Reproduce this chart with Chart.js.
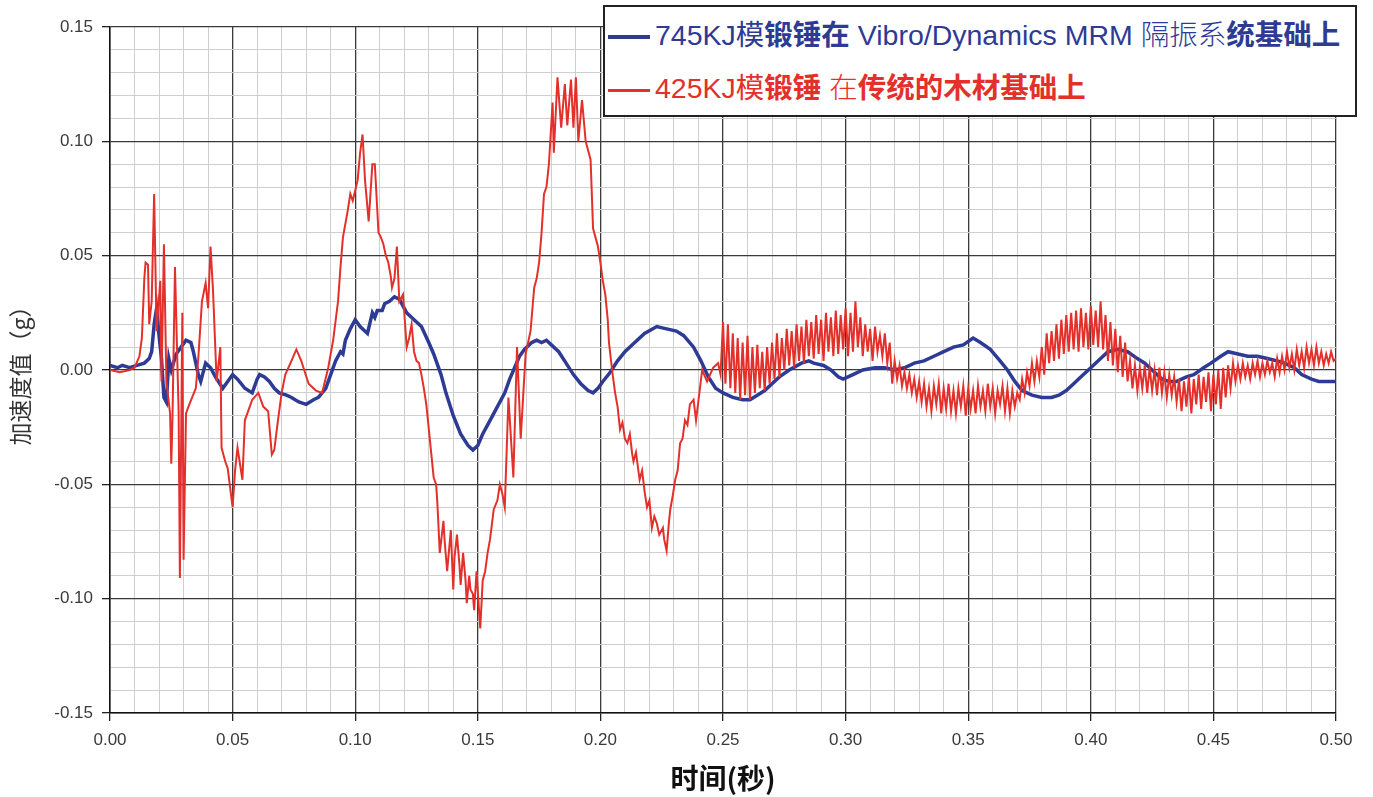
<!DOCTYPE html>
<html>
<head>
<meta charset="utf-8">
<script src="https://cdn.jsdelivr.net/npm/chart.js@4"></script>
<style>
  body { margin: 0; background: #fff; }
  #wrap { position: relative; width: 1373px; height: 797px; }
  #legend {
    position: absolute; left: 603px; top: 5px; width: 750px; height: 108px;
    border: 2px solid #222; background: #fff;
    font-family: "Liberation Sans", "Noto Sans CJK SC", sans-serif; font-size: 28.5px;
  }
  .row { position: absolute; left: 3px; white-space: nowrap; }
  .row .seg { display: inline-block; width: 42px; vertical-align: middle; margin-right: 5px; }
  .b { font-weight: bold; }
  .l { font-weight: 300; }
</style>
</head>
<body>
<div id="wrap">
  <canvas id="chart" width="1373" height="797"></canvas>
  <div id="legend">
    <div class="row" id="row1" style="top:5px;color:#2e3b95"><span class="seg" style="height:4px;background:#2e3b95"></span>745KJ模<span class="b">锻锤在</span> Vibro/Dynamics MRM <span class="l">隔振系</span><span class="b">统基础上</span></div>
    <div class="row" id="row2" style="top:58px;color:#e4302a"><span class="seg" style="height:3px;background:#e4302a"></span>425KJ模<span class="b">锻锤</span> <span class="l">在</span><span class="b">传统的木材基础上</span></div>
  </div>
</div>
<script>
// series labels
const seriesNames = [
  '745KJ模锻锤在 Vibro/Dynamics MRM 隔振系统基础上',
  '425KJ模锻锤 在传统的木材基础上'
]

// blue trace: [time s, accel g]
const bluePoints = [
  [0.000,0.002],[0.003,0.001],[0.005,0.002],[0.008,0.001],[0.011,0.002],[0.014,0.003],
  [0.016,0.005],[0.017,0.008],[0.018,0.020],[0.019,0.027],[0.020,0.015],[0.021,0.005],
  [0.022,-0.012],[0.023,-0.014],[0.024,0.005],[0.025,0.000],[0.027,0.007],[0.029,0.010],
  [0.031,0.013],[0.033,0.012],[0.034,0.008],[0.035,0.003],[0.036,-0.002],[0.037,-0.005],
  [0.039,0.003],[0.041,0.001],[0.043,-0.003],[0.046,-0.008],[0.048,-0.005],[0.050,-0.002],
  [0.052,-0.004],[0.055,-0.008],[0.058,-0.010],[0.060,-0.004],[0.061,-0.002],[0.063,-0.003],
  [0.065,-0.005],[0.067,-0.008],[0.069,-0.010],[0.072,-0.011],[0.074,-0.012],[0.077,-0.014],
  [0.080,-0.015],[0.083,-0.013],[0.085,-0.012],[0.088,-0.008],[0.090,-0.002],[0.092,0.004],
  [0.094,0.008],[0.095,0.007],[0.096,0.013],[0.098,0.018],[0.100,0.022],[0.102,0.019],[0.105,0.016],
  [0.107,0.025],[0.108,0.023],[0.109,0.026],[0.111,0.026],[0.112,0.029],[0.114,0.030],[0.116,0.032],[0.118,0.031],
  [0.121,0.025],[0.124,0.022],[0.127,0.019],[0.130,0.012],[0.132,0.007],[0.135,-0.002],
  [0.137,-0.010],[0.140,-0.020],[0.143,-0.028],[0.146,-0.033],[0.148,-0.035],[0.150,-0.033],
  [0.152,-0.028],[0.155,-0.022],[0.158,-0.016],[0.161,-0.010],[0.163,-0.004],[0.165,0.001],
  [0.167,0.006],[0.169,0.009],[0.172,0.012],[0.174,0.013],[0.176,0.012],[0.178,0.013],
  [0.180,0.011],[0.183,0.008],[0.186,0.003],[0.189,-0.002],[0.192,-0.006],[0.195,-0.009],
  [0.197,-0.010],[0.199,-0.008],[0.201,-0.005],[0.204,-0.001],[0.207,0.004],[0.210,0.008],
  [0.214,0.012],[0.218,0.016],[0.223,0.019],[0.227,0.018],[0.231,0.017],[0.234,0.015],
  [0.238,0.010],[0.241,0.004],[0.244,-0.003],[0.247,-0.008],[0.250,-0.010],[0.254,-0.012],
  [0.258,-0.013],[0.261,-0.013],[0.264,-0.011],[0.267,-0.009],[0.270,-0.006],[0.273,-0.003],
  [0.277,0.000],[0.282,0.003],[0.285,0.004],[0.287,0.003],[0.291,0.002],[0.294,0.000],
  [0.297,-0.003],[0.299,-0.004],[0.303,-0.002],[0.307,0.000],[0.312,0.001],[0.316,0.001],
  [0.320,0.000],[0.324,0.001],[0.328,0.003],[0.332,0.004],[0.336,0.006],[0.340,0.008],
  [0.344,0.010],[0.348,0.011],[0.352,0.014],[0.355,0.012],[0.359,0.009],[0.363,0.004],
  [0.366,0.000],[0.369,-0.005],[0.372,-0.009],[0.376,-0.011],[0.380,-0.012],[0.384,-0.012],
  [0.387,-0.011],[0.390,-0.009],[0.393,-0.006],[0.397,-0.002],[0.400,0.001],[0.404,0.005],
  [0.407,0.008],[0.411,0.009],[0.415,0.008],[0.419,0.005],[0.422,0.003],[0.426,-0.001],
  [0.429,-0.004],[0.432,-0.005],[0.435,-0.005],[0.439,-0.003],[0.442,-0.002],[0.446,0.001],
  [0.449,0.003],[0.453,0.006],[0.456,0.008],[0.460,0.007],[0.464,0.006],[0.468,0.006],
  [0.472,0.005],[0.476,0.004],[0.479,0.003],[0.483,0.001],[0.486,-0.002],[0.490,-0.004],
  [0.493,-0.005],[0.497,-0.005],[0.500,-0.005]
]

// red trace: [time s, accel g]
const redPoints = [
  [0.000,0.000],[0.004,-0.001],[0.008,0.000],[0.010,0.001],[0.012,0.006],[0.013,0.014],
  [0.014,0.040],[0.0145,0.047],[0.0155,0.046],[0.016,0.020],[0.017,0.030],[0.018,0.077],
  [0.019,0.017],[0.0205,0.039],[0.021,-0.005],[0.022,0.055],[0.023,-0.005],[0.0245,-0.019],
  [0.025,-0.041],[0.0255,-0.020],[0.0265,0.045],[0.028,-0.019],[0.0285,-0.091],[0.0295,0.025],
  [0.030,-0.083],[0.031,-0.019],[0.032,-0.016],[0.0335,-0.012],[0.035,-0.008],[0.036,0.005],
  [0.0375,0.030],[0.039,0.038],[0.040,0.027],[0.041,0.054],[0.042,0.035],[0.0435,-0.005],
  [0.045,0.010],[0.0455,-0.034],[0.047,-0.040],[0.048,-0.043],[0.050,-0.060],[0.051,-0.044],
  [0.052,-0.034],[0.054,-0.048],[0.055,-0.022],[0.057,-0.016],[0.058,-0.013],[0.0605,-0.010],
  [0.0625,-0.016],[0.0645,-0.018],[0.066,-0.037],[0.067,-0.035],[0.0685,-0.022],[0.070,-0.010],
  [0.0715,-0.002],[0.074,0.004],[0.076,0.009],[0.078,0.004],[0.081,-0.006],[0.084,-0.009],
  [0.0865,-0.010],[0.089,0.001],[0.091,0.013],[0.093,0.030],[0.094,0.045],[0.095,0.058],
  [0.097,0.070],[0.098,0.077],[0.099,0.074],[0.101,0.083],[0.102,0.095],[0.103,0.103],
  [0.104,0.083],[0.1055,0.065],[0.107,0.090],[0.108,0.090],[0.1095,0.060],[0.1105,0.058],
  [0.1115,0.055],[0.1125,0.050],[0.1135,0.047],[0.1145,0.041],[0.115,0.036],[0.116,0.040],
  [0.117,0.054],[0.118,0.030],[0.1195,0.033],[0.121,0.010],[0.122,0.014],
  [0.123,0.020],[0.124,0.008],[0.125,0.004],[0.126,0.003],[0.127,-0.002],[0.128,-0.008],
  [0.129,-0.015],[0.1305,-0.031],[0.132,-0.047],[0.133,-0.050],
  [0.1335,-0.058],[0.1345,-0.080],[0.136,-0.066],[0.1365,-0.075],[0.1375,-0.088],[0.1385,-0.076],
  [0.139,-0.070],[0.140,-0.096],[0.1405,-0.082],[0.1415,-0.072],[0.1425,-0.085],[0.143,-0.094],
  [0.144,-0.080],[0.145,-0.092],[0.1455,-0.102],[0.1465,-0.090],[0.147,-0.096],[0.148,-0.098],
  [0.1485,-0.105],[0.1495,-0.088],[0.150,-0.097],[0.151,-0.113],[0.152,-0.092],[0.153,-0.088],
  [0.154,-0.080],[0.155,-0.074],[0.1565,-0.061],[0.158,-0.057],[0.159,-0.050],[0.160,-0.054],
  [0.161,-0.060],[0.1625,-0.012],[0.1645,-0.047],[0.166,0.010],[0.1675,-0.030],[0.1695,0.007],
  [0.1715,0.017],[0.173,0.036],[0.174,0.040],[0.175,0.047],[0.176,0.060],[0.177,0.077],
  [0.178,0.080],[0.179,0.090],[0.1805,0.117],
  [0.181,0.095],[0.1825,0.128],[0.184,0.106],[0.1855,0.125],[0.1865,0.107],[0.188,0.127],
  [0.189,0.106],[0.190,0.128],[0.191,0.100],[0.1925,0.118],[0.194,0.100],[0.195,0.096],[0.196,0.092],
  [0.197,0.062],[0.198,0.058],[0.199,0.054],[0.200,0.047],[0.201,0.039],[0.202,0.033],
  [0.203,0.022],[0.2035,0.012],[0.205,-0.002],
  [0.206,-0.010],[0.207,-0.016],[0.208,-0.026],[0.209,-0.023],[0.210,-0.030],[0.211,-0.032],
  [0.212,-0.028],[0.213,-0.037],[0.2135,-0.040],[0.2145,-0.036],[0.216,-0.048],[0.217,-0.044],
  [0.218,-0.053],[0.219,-0.060],[0.220,-0.057],[0.221,-0.069],[0.222,-0.064],[0.223,-0.067],
  [0.224,-0.072],[0.2255,-0.069],[0.226,-0.074],[0.227,-0.079],[0.228,-0.066],[0.2285,-0.061],
  [0.2295,-0.055],[0.2305,-0.048],[0.2315,-0.044],[0.2325,-0.032],[0.2335,-0.030],[0.2345,-0.022],
  [0.2355,-0.024],[0.2365,-0.015],[0.238,-0.013],[0.239,-0.022],[0.2415,0.000],
  [0.2435,-0.005],[0.246,0.001],[0.248,0.003],[0.249,-0.002],[0.250,0.021],
  [0.251,-0.006],[0.252,0.020],[0.253,-0.008],[0.254,0.016],[0.255,-0.010],[0.256,0.014],
  [0.257,-0.013],[0.258,0.012],[0.259,-0.011],[0.260,0.015],[0.261,-0.013],[0.262,0.010],
  [0.263,-0.010],[0.264,0.011],[0.265,-0.008],[0.266,0.008],[0.267,-0.009],[0.268,0.010],
  [0.269,-0.006],[0.270,0.012],[0.271,-0.004],[0.272,0.016],[0.273,-0.003],[0.274,0.014],
  [0.275,0.000],[0.276,0.018],[0.277,0.002],[0.278,0.017],[0.279,0.001],[0.280,0.020],
  [0.281,0.004],[0.282,0.019],[0.283,0.003],[0.284,0.022],[0.285,0.006],[0.286,0.021],
  [0.287,0.005],[0.288,0.024],[0.289,0.007],[0.290,0.022],[0.291,0.004],[0.292,0.025],
  [0.293,0.008],[0.294,0.023],[0.295,0.006],[0.296,0.026],[0.297,0.007],[0.298,0.024],
  [0.299,0.009],[0.300,0.027],[0.301,0.006],[0.302,0.025],[0.303,0.008],[0.304,0.030],
  [0.305,0.010],[0.306,0.023],[0.307,0.006],[0.308,0.020],[0.309,0.008],[0.310,0.018],
  [0.311,0.004],[0.312,0.019],[0.313,0.008],[0.314,0.015],[0.315,0.006],[0.316,0.016],
  [0.317,0.003],[0.318,0.012],[0.319,-0.006],[0.320,0.004],[0.321,-0.004],[0.322,0.002],
  [0.323,-0.007],[0.324,-0.001],[0.325,-0.008],[0.326,-0.002],[0.327,-0.010],[0.328,-0.004],
  [0.329,-0.012],[0.330,-0.005],[0.331,-0.014],[0.332,-0.006],[0.333,-0.016],[0.334,-0.008],
  [0.335,-0.018],[0.336,-0.007],[0.337,-0.015],[0.338,-0.006],[0.339,-0.019],[0.340,-0.008],
  [0.341,-0.017],[0.342,-0.006],[0.343,-0.018],[0.344,-0.009],[0.345,-0.019],[0.346,-0.008],
  [0.347,-0.016],[0.348,-0.007],[0.349,-0.020],[0.350,-0.008],[0.351,-0.017],[0.352,-0.009],
  [0.353,-0.019],[0.354,-0.007],[0.355,-0.016],[0.356,-0.009],[0.357,-0.018],[0.358,-0.006],
  [0.359,-0.016],[0.360,-0.008],[0.361,-0.019],[0.362,-0.009],[0.363,-0.015],[0.364,-0.007],
  [0.365,-0.018],[0.366,-0.008],[0.367,-0.019],[0.368,-0.009],[0.369,-0.016],[0.370,-0.010],
  [0.371,-0.013],[0.372,-0.004],[0.373,-0.010],[0.374,-0.001],[0.375,-0.007],[0.376,0.003],
  [0.377,-0.005],[0.378,0.004],[0.379,-0.003],[0.380,0.010],[0.381,-0.002],[0.382,0.016],
  [0.383,0.003],[0.384,0.017],[0.385,0.004],[0.386,0.020],[0.387,0.005],[0.388,0.022],
  [0.389,0.007],[0.390,0.024],[0.391,0.008],[0.392,0.025],[0.393,0.009],[0.394,0.026],
  [0.395,0.008],[0.396,0.027],[0.397,0.010],[0.398,0.025],[0.399,0.009],[0.400,0.028],
  [0.401,0.011],[0.402,0.026],[0.403,0.010],[0.404,0.030],[0.405,0.009],[0.406,0.024],
  [0.407,0.004],[0.408,0.021],[0.409,0.002],[0.410,0.018],[0.411,-0.001],[0.412,0.015],
  [0.413,-0.003],[0.414,0.012],[0.415,-0.005],[0.416,0.004],[0.417,-0.008],[0.418,0.002],
  [0.419,-0.009],[0.420,0.001],[0.421,-0.008],[0.422,0.002],[0.423,-0.010],[0.424,0.001],
  [0.425,-0.009],[0.426,0.000],[0.427,-0.011],[0.428,0.001],[0.429,-0.010],[0.430,-0.001],
  [0.431,-0.012],[0.432,-0.002],[0.433,-0.011],[0.434,-0.003],[0.435,-0.014],[0.436,-0.004],
  [0.437,-0.018],[0.438,-0.005],[0.439,-0.016],[0.440,-0.003],[0.441,-0.019],[0.442,-0.004],
  [0.443,-0.015],[0.444,-0.002],[0.445,-0.017],[0.446,-0.003],[0.447,-0.014],[0.448,-0.001],
  [0.449,-0.018],[0.450,-0.002],[0.451,-0.015],[0.452,0.000],[0.453,-0.017],[0.454,0.001],
  [0.455,-0.012],[0.456,0.002],[0.457,-0.008],[0.458,0.003],[0.459,-0.005],[0.460,0.002],
  [0.461,-0.004],[0.462,0.003],[0.463,-0.003],[0.464,0.002],[0.465,-0.004],[0.466,0.003],
  [0.467,-0.002],[0.468,0.004],[0.469,-0.003],[0.470,0.003],[0.471,-0.002],[0.472,0.004],
  [0.473,-0.001],[0.474,0.003],[0.475,-0.003],[0.476,0.005],[0.477,-0.001],[0.478,0.006],
  [0.479,0.000],[0.480,0.008],[0.481,0.001],[0.482,0.007],[0.483,0.000],[0.484,0.009],
  [0.485,0.002],[0.486,0.008],[0.487,0.001],[0.488,0.010],[0.489,0.003],[0.490,0.009],
  [0.491,0.002],[0.492,0.010],[0.493,0.003],[0.494,0.008],[0.495,0.002],[0.496,0.007],
  [0.497,0.003],[0.498,0.008],[0.499,0.004],[0.500,0.005]
]

// axis ranges / steps
const xRange = [0, 0.5]
const yRange = [-0.15, 0.15]
const minorStep = 0.01

const majorGrid = '#3a3a3a'
const minorGrid = '#cfcfcf'

function toXY(pts) {
  return pts.map(p => ({ x: p[0], y: p[1] }))
}

// major every 5th tick, light grey minor lines in between
function gridColor(ctx) {
  return ctx.index % 5 === 0 ? majorGrid : minorGrid
}
function tickMarkColor(ctx) {
  return ctx.index % 5 === 0 ? '#222' : 'rgba(0,0,0,0)'
}
function majorLabel(value, index) {
  if (index % 5 !== 0) return ''
  const v = Math.abs(value) < 1e-9 ? 0 : value
  return v.toFixed(2)
}

new Chart(document.getElementById('chart'), {
  type: 'line',
  data: {
    datasets: [
      {
        label: seriesNames[0],
        data: toXY(bluePoints),
        borderColor: '#2e3b95',
        borderWidth: 3.5,
        pointRadius: 0,
        tension: 0,
        order: 1
      },
      {
        label: seriesNames[1],
        data: toXY(redPoints),
        borderColor: '#e4302a',
        borderWidth: 2,
        pointRadius: 0,
        tension: 0,
        order: 0
      }
    ]
  },
  options: {
    responsive: false,
    animation: false,
    devicePixelRatio: 1,
    layout: { padding: { left: 0, top: 27, right: 37, bottom: 0 } },
    plugins: {
      legend: { display: false },
      tooltip: { enabled: false }
    },
    scales: {
      x: {
        type: 'linear',
        min: xRange[0],
        max: xRange[1],
        afterFit: s => { s.height = 84 },
        border: { color: '#111', width: 1.5 },
        grid: { color: gridColor, tickColor: tickMarkColor, tickLength: 8, lineWidth: c => c.index % 5 === 0 ? 1.3 : 1 },
        ticks: {
          stepSize: minorStep,
          maxTicksLimit: 100,
          autoSkip: false,
          maxRotation: 0,
          padding: 9,
          color: '#3a3a3a',
          font: { family: 'Liberation Sans', size: 17 },
          callback: majorLabel
        },
        title: {
          display: true,
          text: '时间(秒)',
          color: '#111',
          font: { family: 'Noto Sans CJK SC', size: 28, weight: 'bold' },
          padding: { top: 0, bottom: 2 }
        }
      },
      y: {
        type: 'linear',
        min: yRange[0],
        max: yRange[1],
        afterFit: s => { s.width = 110 },
        border: { color: '#111', width: 1.5 },
        grid: { color: gridColor, tickColor: tickMarkColor, tickLength: 8, lineWidth: c => c.index % 5 === 0 ? 1.3 : 1 },
        ticks: {
          stepSize: minorStep,
          maxTicksLimit: 100,
          autoSkip: false,
          padding: 9,
          color: '#3a3a3a',
          font: { family: 'Liberation Sans', size: 17 },
          callback: majorLabel
        },
        title: {
          display: true,
          text: '加速度值（g）',
          color: '#333',
          font: { family: 'Noto Sans CJK SC', size: 23 },
          padding: { top: 6, bottom: 0 }
        }
      }
    }
  }
})
</script>
</body>
</html>
